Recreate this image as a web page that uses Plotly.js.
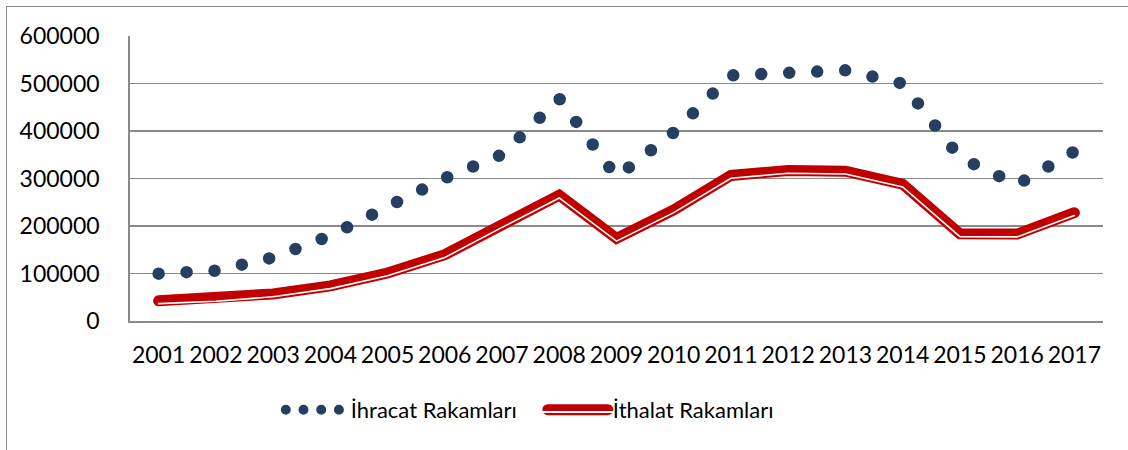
<!DOCTYPE html>
<html>
<head>
<meta charset="utf-8">
<script src="https://cdn.plot.ly/plotly-3.0.1.min.js"></script>
<style>
  body { margin: 0; background: #fff; }
  #chart { position: absolute; left: 0; top: 0; width: 1128px; height: 450px; }
  #frame { position: absolute; left: 6px; top: 6px; width: 1300px; height: 600px;
           border-left: 1.5px solid #8c8c8c; border-top: 1.5px solid #8c8c8c; pointer-events: none; }
  /* dotted export line: round dots along the path */
  .subplot.xy .scatterlayer .trace:nth-child(1) .js-line { stroke-linecap: round !important; }
  .subplot.xy .scatterlayer .trace:nth-child(2) .js-line { stroke-linecap: round !important; }
  .legend .traces:nth-child(1) .js-line { stroke-linecap: round !important; stroke-dasharray: 0px, 17.7px !important; stroke-width: 10px !important; }
  .legend .traces:nth-child(2) .js-line { stroke-linecap: round !important; stroke: url(#dbl) !important; stroke-width: 11px !important; }
</style>
</head>
<body>
<svg width="0" height="0" style="position:absolute">
  <defs>
    <linearGradient id="dbl" gradientUnits="userSpaceOnUse" x1="0" y1="-5.5" x2="0" y2="5.5">
      <stop offset="0" stop-color="#c00000"/>
      <stop offset="0.62" stop-color="#c00000"/>
      <stop offset="0.62" stop-color="#ffffff"/>
      <stop offset="0.8" stop-color="#ffffff"/>
      <stop offset="0.8" stop-color="#c00000"/>
      <stop offset="1" stop-color="#c00000"/>
    </linearGradient>
  </defs>
</svg>
<div id="chart"></div>
<div id="frame"></div>
<script>
// ---- data ----
const years = ['2001','2002','2003','2004','2005','2006','2007','2008','2009',
               '2010','2011','2012','2013','2014','2015','2016','2017'];
const ihracat = [99600, 106000, 133700, 179500, 240500, 300600, 350400, 468000, 303000,
                 397000, 517000, 524800, 527700, 499700, 344000, 287000, 357000];
const ithalat = [42500, 47500, 57000, 74000, 101000, 139500, 203000, 265000, 174000,
                 234000, 306500, 317000, 315500, 288000, 183500, 183000, 228000];
const yTickVals = [0, 100000, 200000, 300000, 400000, 500000, 600000];
const yTickText = ['0', '100000', '200000', '300000', '400000', '500000', '600000'];
const seriesNames = ['İhracat Rakamları', 'İthalat Rakamları'];

// ---- style ----
const NAVY = '#243f62', RED = '#c00000', GRID = '#8a8a8a';
const FONT = 'Lato, "Open Sans", sans-serif';
const yMax = 600000;
const plotH = 285;
const whiteOffsetPx = 2.8;
const off = whiteOffsetPx * yMax / plotH;

const traces = [
  { x: years, y: ihracat, name: seriesNames[0], type: 'scatter', mode: 'lines',
    line: { color: NAVY, width: 12.5, dash: '0px,28px' }, hoverinfo: 'skip' },
  { x: years, y: ithalat, name: seriesNames[1], type: 'scatter', mode: 'lines',
    line: { color: RED, width: 11 }, hoverinfo: 'skip' },
  { x: years, y: ithalat, name: seriesNames[1], type: 'scatter', mode: 'lines', yaxis: 'y2',
    line: { color: '#ffffff', width: 1.6 }, showlegend: false, hoverinfo: 'skip' }
];

const layout = {
  width: 1128, height: 450,
  margin: { l: 130, r: 25, t: 36, b: 129, pad: 0 },
  paper_bgcolor: 'rgba(0,0,0,0)', plot_bgcolor: '#fff',
  font: { family: FONT, color: '#000', size: 23 },
  showlegend: true,
  legend: { orientation: 'h', x: 0.155, xanchor: 'left', y: -0.312, yanchor: 'middle',
            font: { family: FONT, size: 22, color: '#000' }, itemwidth: 60, entrywidth: 187,
            bgcolor: 'rgba(0,0,0,0)', traceorder: 'normal' },
  xaxis: { type: 'category', range: [-0.5, 16.5], showgrid: false, zeroline: false,
           showline: true, linecolor: GRID, linewidth: 1.75, ticks: '',
           tickfont: { family: FONT, size: 23, color: '#000' }, ticklabelstandoff: 13,
           fixedrange: true },
  yaxis: { range: [0, yMax], tickvals: yTickVals, ticktext: yTickText,
           showgrid: true, gridcolor: GRID, gridwidth: 1.75, zeroline: false,
           showline: true, linecolor: GRID, linewidth: 1.75, ticks: '',
           tickfont: { family: FONT, size: 23, color: '#000' }, ticklabelstandoff: 24,
           fixedrange: true },
  yaxis2: { overlaying: 'y', range: [off, yMax + off], visible: false, fixedrange: true }
};

Plotly.newPlot('chart', traces, layout, { staticPlot: true, displayModeBar: false });
</script>
</body>
</html>
